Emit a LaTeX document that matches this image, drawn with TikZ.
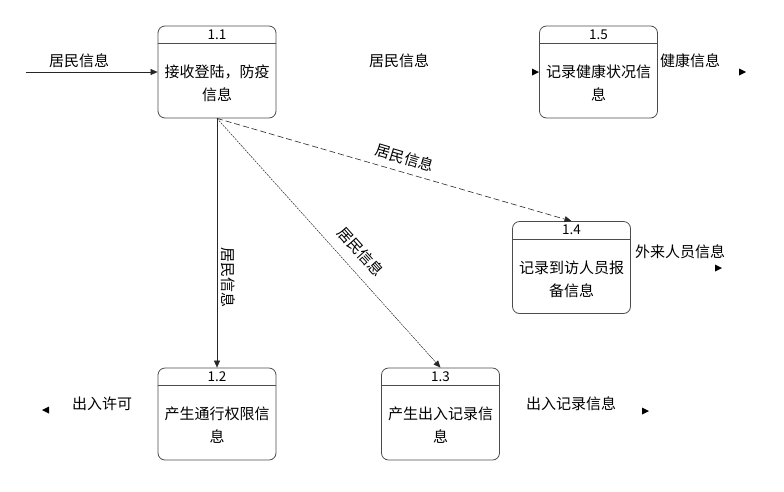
\documentclass[tikz,border=0pt]{standalone}
\usepackage{fontspec}
\setmainfont{Noto Sans CJK SC}
\usetikzlibrary{arrows.meta}
\begin{document}
\begin{tikzpicture}[x=1pt,y=-1pt,
  proc/.style={draw=black!70, line width=0.8pt, rounded corners=7pt, minimum width=118pt, minimum height=92pt, inner sep=0pt},
  hdr/.style={font=\fontsize{13.5}{13.5}\selectfont, inner sep=0pt},
  body/.style={font=\fontsize{15}{23}\selectfont, align=center, inner sep=0pt},
  lbl/.style={font=\fontsize{15}{15}\selectfont, inner sep=1pt},
  flow/.style={-{Triangle[length=7pt,width=6pt]}, line width=0.6pt, draw=black!85},
  tipr/.style={fill=black}
]
\useasboundingbox (0,0) rectangle (784,491);

% processes
\node[proc] (b11) at (217,72) {};
\node[proc] (b15) at (598.5,72) {};
\node[proc] (b14) at (571.5,267.5) {};
\node[proc] (b12) at (217,414) {};
\node[proc] (b13) at (440.5,414) {};

\foreach \b/\t in {b11/1.1,b15/1.5,b14/1.4,b12/1.2,b13/1.3}{
  \draw[black!70, line width=0.8pt] ([yshift=-18pt]\b.north west) -- ([yshift=-18pt]\b.north east);
  \node[hdr] at ([yshift=-9pt]\b.north) {\t};
}
\node[body] (t11) at ([yshift=-11.5pt]b11.center) {接收登陆，防疫\\信息};
\node[body] (t15) at ([yshift=-11.5pt]b15.center) {记录健康状况信\\息};
\node[body] (t14) at ([yshift=-11.5pt]b14.center) {记录到访人员报\\备信息};
\node[body] (t12) at ([yshift=-11.5pt]b12.center) {产生通行权限信\\息};
\node[body] (t13) at ([yshift=-11.5pt]b13.center) {产生出入记录信\\息};

% input flow
\coordinate (in) at (26,72);
\draw[flow] (in) -- (b11.west);
\node[lbl] (l0) at (79,61) {居民信息};

% flows from 1.1
\draw[flow] (b11.south) -- (b12.north);
\node[lbl, rotate=-90] (l1) at (228,277) {居民信息};

\draw[flow, dash pattern=on 6pt off 3pt] (b11.south) -- (b14.north);
\node[lbl, rotate=-16.5] (l2) at (405,158) {居民信息};

\draw[flow, line width=0.5pt, dash pattern=on 2pt off 1pt] (b11.south) -- (b13.north);
\node[lbl, rotate=-48] (l3) at (361,252) {居民信息};

% free labels
\node[lbl] (l4) at (399,61) {居民信息};
\node[lbl] (l5) at (690,61) {健康信息};
\node[lbl] (l6) at (680,252) {外来人员信息};
\node[lbl] (l7) at (102,404) {出入许可};
\node[lbl] (l8) at (571,404) {出入记录信息};

% lone arrowheads
\fill[tipr] (532,68.5) -- (539,72) -- (532,75.5) -- cycle;
\fill[tipr] (739,68.5) -- (746,72) -- (739,75.5) -- cycle;
\fill[tipr] (715,264.5) -- (722,268) -- (715,271.5) -- cycle;
\fill[tipr] (49,406.5) -- (42,410) -- (49,413.5) -- cycle;
\fill[tipr] (642,407.5) -- (649,411) -- (642,414.5) -- cycle;
\end{tikzpicture}
\end{document}
